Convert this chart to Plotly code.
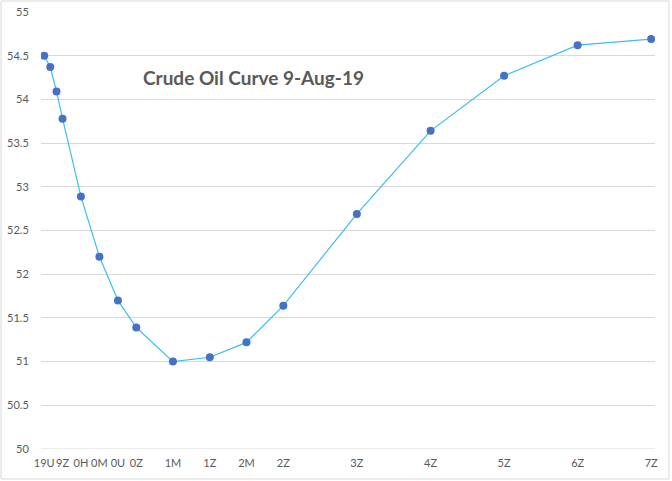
import plotly.graph_objects as go

# 9-Aug-19 crude oil futures curve
contracts = ["19U", "19V", "19X", "9Z", "0H", "0M", "0U", "0Z",
             "1M", "1Z", "2M", "2Z", "3Z", "4Z", "5Z", "6Z", "7Z"]
expiry = ["2019-09-01", "2019-10-01", "2019-11-01", "2019-12-01",
          "2020-03-01", "2020-06-01", "2020-09-01", "2020-12-01",
          "2021-06-01", "2021-12-01", "2022-06-01", "2022-12-01",
          "2023-12-01", "2024-12-01", "2025-12-01", "2026-12-01", "2027-12-01"]
prices = [54.50, 54.37, 54.09, 53.78, 52.89, 52.20, 51.70, 51.39,
          51.00, 51.05, 51.22, 51.64, 52.69, 53.64, 54.27, 54.62, 54.69]

# only some contracts get a label on the axis
tick_labels = ["19U", "9Z", "0H", "0M", "0U", "0Z", "1M", "1Z",
               "2M", "2Z", "3Z", "4Z", "5Z", "6Z", "7Z"]
tick_dates = [d for c, d in zip(contracts, expiry) if c in tick_labels]

grey = "#595959"

fig = go.Figure()
fig.add_trace(go.Scatter(
    x=expiry, y=prices, mode="lines+markers",
    line=dict(color="#3DBDF0", width=1.2),
    marker=dict(color="#4472C4", size=8),
    text=contracts, hovertemplate="%{text}: %{y}<extra></extra>",
))

fig.update_layout(
    width=672, height=481,
    margin=dict(l=41, r=17, t=12, b=32),
    paper_bgcolor="white", plot_bgcolor="white",
    showlegend=False,
    font=dict(family="Lato, Liberation Sans, sans-serif", size=11, color=grey),
    xaxis=dict(
        type="date", range=["2019-08-16", "2027-12-20"],
        tickvals=tick_dates, ticktext=tick_labels, tickangle=0,
        showgrid=False, zeroline=False, showline=False,
        ticks="outside", ticklen=4, tickcolor="white",
        tickfont=dict(size=11, color=grey), automargin=False,
    ),
    yaxis=dict(
        range=[50, 55], dtick=0.5, tickformat="~g",
        showgrid=True, gridcolor="#D9D9D9", gridwidth=1,
        zeroline=False, showline=False, ticks="outside", ticklen=9, tickcolor="white",
        tickfont=dict(size=11, color=grey), automargin=False,
    ),
    annotations=[dict(
        text="<b>Crude Oil Curve 9-Aug-19</b>",
        x=(253 - 41) / 614, y=(449 - 78) / 437, xref="paper", yref="paper",
        xanchor="center", yanchor="middle",
        showarrow=False, font=dict(size=19, color=grey),
    )],
    shapes=[
        # bottom grid line at 50 (axis baseline)
        dict(type="line", xref="paper", yref="y", x0=0, x1=1, y0=50, y1=50,
             line=dict(color="#D9D9D9", width=1)),
        # chart border
        dict(type="rect", xref="paper", yref="paper",
             x0=-0.0651, x1=1.0228, y0=-0.0686, y1=1.0252,
             line=dict(color="#D9D9D9", width=1)),
    ],
)

# drop the page's default body margin so the chart sits at the top-left corner
fig.write_html("out.html", config={"displayModeBar": False},
               post_script="document.body.style.margin='0';")
